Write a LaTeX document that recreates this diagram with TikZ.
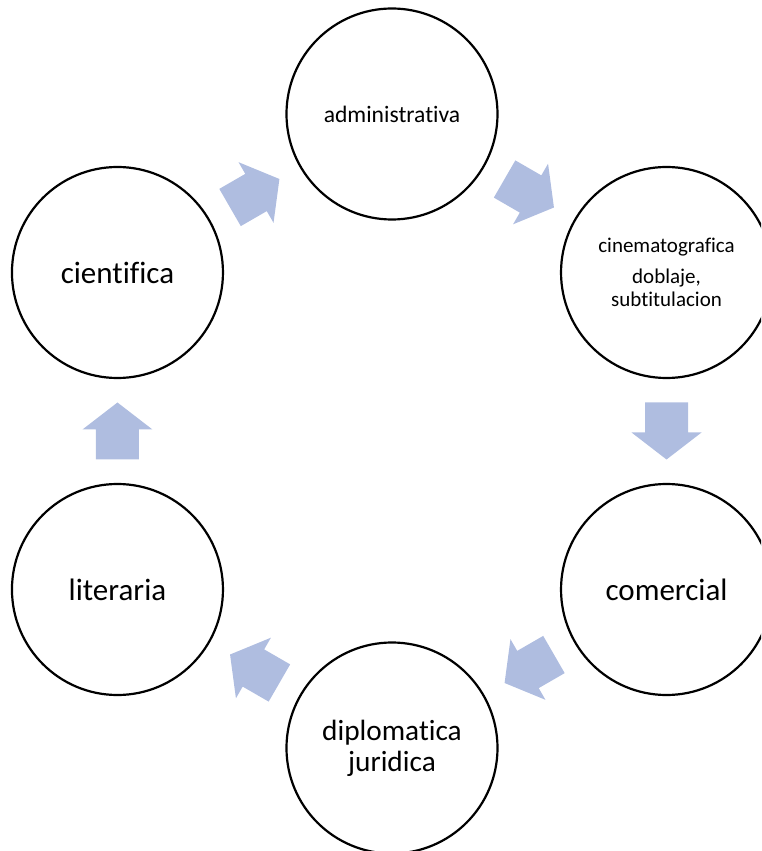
\documentclass[tikz,border=0pt]{standalone}
\usepackage{fontspec}
\setmainfont{Carlito}[Ligatures={NoCommon}]
\usetikzlibrary{calc}

\definecolor{arrowblue}{RGB}{175,189,224}
\newcommand{\bigtext}{\fontsize{31}{32}\selectfont}
\newcommand{\dipltext}{\fontsize{29.3}{31}\selectfont}
\newcommand{\admtext}{\fontsize{23.6}{26}\selectfont}
\newcommand{\cinetext}{\fontsize{21}{23.3}\selectfont}

\tikzset{
    stage/.style={circle, black, draw, line width=2.2pt, minimum size=211pt,
        inner sep=0pt, align=center},
    cyclearrow/.pic={
        \fill[arrowblue] (-28.5,-21.5) -- (1.5,-21.5) -- (1.5,-35) -- (28.5,0)
            -- (1.5,35) -- (1.5,21.5) -- (-28.5,21.5) -- cycle;
    }
}

\begin{document}
\begin{tikzpicture}[x=1pt, y=1pt]
    \clip (-392,-420) rectangle (369,431);

    \draw
    (90:317) node[stage, font=\admtext](adm){administrativa}
    (30:317) node[stage, font=\cinetext](cin){cinematografica\\[8pt]doblaje,\\subtitulacion}
    (-30:317) node[stage, font=\bigtext](com){comercial}
    (-90:317) node[stage, font=\dipltext](dip){diplomatica\\juridica}
    (-150:317) node[stage, font=\bigtext](lit){literaria}
    (150:317) node[stage, font=\bigtext](cie){cientifica};

    \pic[rotate=30] at ($(cie)!0.5!(adm)$) {cyclearrow};
    \pic[rotate=-30] at ($(adm)!0.5!(cin)$) {cyclearrow};
    \pic[rotate=-90] at ($(cin)!0.5!(com)$) {cyclearrow};
    \pic[rotate=-150] at ($(com)!0.5!(dip)$) {cyclearrow};
    \pic[rotate=150] at ($(dip)!0.5!(lit)$) {cyclearrow};
    \pic[rotate=90] at ($(lit)!0.5!(cie)$) {cyclearrow};

\end{tikzpicture}
\end{document}
